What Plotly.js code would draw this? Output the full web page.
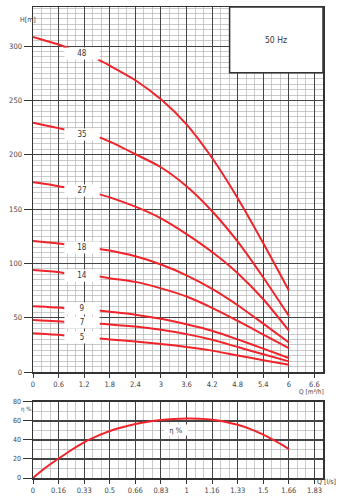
<!DOCTYPE html>
<html><head><meta charset="utf-8">
<script src="https://cdn.plot.ly/plotly-3.0.1.min.js"></script>
<style>html,body{margin:0;padding:0;background:#fff}#c{width:351px;height:504px}</style>
</head><body><div id="c"></div>
<script>
// Head curves: Q [m3/h] and H [m], split by the label gap
const stages = ['48','35','27','18','14','9','7','5'];
const qLeft = [0, 0.3, 0.6, 0.74];
const qLeft48 = [0, 0.3, 0.6, 0.9];
const qRight = [1.56, 1.8, 2.4, 3.0, 3.6, 4.2, 4.8, 5.4, 6.0];
const qRight48 = [1.52, 1.8, 2.4, 3.0, 3.6, 4.2, 4.8, 5.4, 6.0];
const h48L = [308.5, 305, 301.5, 297];
const h48R = [287.7, 282, 268.6, 251, 228, 197, 160, 118.5, 75];
const h35L = [229.4, 227, 224.5, 223.3];
const h35R = [216, 212, 200.5, 188.5, 171, 148, 120, 87, 51.7];
const h27L = [174.6, 173, 171, 170];
const h27R = [163.5, 160.8, 152.2, 141.5, 127, 110.5, 91, 67, 38];
const h18L = [120.7, 119.5, 118.3, 117.6];
const h18R = [113.3, 111.8, 106.5, 99, 89, 76.5, 61.5, 44.5, 27.2];
const h14L = [94, 93, 92, 91];
const h14R = [87.9, 86.4, 83, 77, 69.5, 59, 47, 34.5, 22];
const h9L = [60.6, 60, 59.3, 58.8];
const h9R = [56.6, 55.4, 52.8, 49, 44, 38, 30, 21.5, 12.9];
const h7L = [47.8, 47.3, 46.7, 46.2];
const h7R = [44.4, 43.8, 41.9, 38.9, 34.9, 29.7, 23, 16.3, 9.8];
const h5L = [35.8, 35, 34.2, 33.7];
const h5R = [30.9, 30, 28.1, 25.7, 23.1, 19.7, 15.3, 10.9, 6.7];
const labelQ = 1.15;
const labelH = [293, 219, 167.5, 114.5, 88.5, 58.8, 46, 31.5];

// Efficiency curve: Q [l/s], eta [%]
const qEff = [0, 0.083, 0.167, 0.25, 0.333, 0.417, 0.5, 0.583, 0.667, 0.75, 0.833, 0.917, 1.0, 1.083, 1.167, 1.25, 1.333, 1.417, 1.5, 1.583, 1.667];
const etaEff = [0, 11, 20.5, 29.5, 37.5, 44, 49.5, 53.5, 56.8, 59.3, 61, 62, 62.5, 62.3, 61.4, 59.3, 56, 51.5, 45.6, 38.5, 30.5];

// Tick labels
const qTopText = ['0','0.6','1.2','1.8','2.4','3','3.6','4.2','4.8','5.4','6','6.6'];
const qTopVals = [0,0.6,1.2,1.8,2.4,3,3.6,4.2,4.8,5.4,6,6.6];
const hVals = [0,50,100,150,200,250,300];
const qBotText = ['0','0.16','0.33','0.5','0.66','0.83','1','1.16','1.33','1.5','1.66','1.83'];
const etaVals = [0,20,40,60,80];

const RED = '#f0242a';
const FONT = '"Liberation Sans Narrow","DejaVu Sans Condensed","Arial Narrow",Roboto,sans-serif';

const leftH = [h48L,h35L,h27L,h18L,h14L,h9L,h7L,h5L];
const rightH = [h48R,h35R,h27R,h18R,h14R,h9R,h7R,h5R];
const traces = [];
stages.forEach((s,i)=>{
  const ql = i===0 ? qLeft48 : qLeft;
  const qr = i===0 ? qRight48 : qRight;
  traces.push({x: ql, y: leftH[i], type:'scatter', mode:'lines', line:{color:RED, width:2, shape:'spline', smoothing:0.8}, xaxis:'x', yaxis:'y', hoverinfo:'skip'});
  traces.push({x: qr, y: rightH[i], type:'scatter', mode:'lines', line:{color:RED, width:2, shape:'spline', smoothing:0.8}, xaxis:'x', yaxis:'y', hoverinfo:'skip'});
});
traces.push({x: qEff, y: etaEff, type:'scatter', mode:'lines', line:{color:RED, width:2, shape:'spline'}, xaxis:'x2', yaxis:'y2', hoverinfo:'skip'});

const axBase = {
  showline:true, mirror:true, linecolor:'#333', linewidth:1.5,
  ticks:'outside', ticklen:4, tickcolor:'#333', tickwidth:1,
  showgrid:true, gridcolor:'#444', gridwidth:1.1, zeroline:false,
  tickfont:{family:FONT, size:7.5, color:'#444'}, fixedrange:true
};
const minorX = (d)=>({tickmode:'linear', tick0:0, dtick:d, showgrid:true, gridcolor:'#b4b4b4', gridwidth:0.7, ticks:''});

const annotations = stages.map((s,i)=>({
  x: labelQ, y: labelH[i], xref:'x', yref:'y', text:s, showarrow:false,
  bgcolor:'#ffffff', width:34, height:11, borderpad:0,
  font:{family:FONT, size:8, color:'#333'}
}));
annotations.push({x:5.7, y:305.7, xref:'x', yref:'y', text:'50 Hz', showarrow:false, font:{family:FONT, size:8.5, color:'#333'}});
annotations.push({x:0.929, y:50.8, xref:'x2', yref:'y2', text:'η %', showarrow:false, bgcolor:'#ffffff', width:22, height:10, borderpad:0, font:{family:FONT, size:7.5, color:'#333'}});
annotations.push({x:-0.052, y:0.985, xref:'paper', yref:'paper', text:'H[m]', showarrow:false, font:{family:FONT, size:7, color:'#444'}});
annotations.push({x:1.012, y:0.170, xref:'paper', yref:'paper', text:'Q [m³/h]', showarrow:false, font:{family:FONT, size:6.5, color:'#444'}});
annotations.push({x:-0.002, y:0.136, xref:'paper', yref:'paper', text:'η %', xanchor:'right', showarrow:false, borderpad:0, font:{family:FONT, size:6, color:'#444'}});
annotations.push({x:1.05, y:-0.021, xref:'paper', yref:'paper', text:'Q [l/s]', showarrow:false, font:{family:FONT, size:7, color:'#444'}});

const layout = {
  width:351, height:504,
  margin:{l:33, r:28, t:7, b:26},
  paper_bgcolor:'#ffffff', plot_bgcolor:'#ffffff',
  showlegend:false,
  xaxis: Object.assign({}, axBase, {domain:[0,1], anchor:'y', range:[0,6.8], tickmode:'array', tickvals:qTopVals, ticktext:qTopText, minor:minorX(0.2)}),
  yaxis: Object.assign({}, axBase, {domain:[0.225,1], anchor:'x', range:[0,336], tickmode:'array', tickvals:hVals, ticklen:8, minor:minorX(5)}),
  xaxis2: Object.assign({}, axBase, {domain:[0,1], anchor:'y2', range:[0,6.8/3.6], tickmode:'array', tickvals:qBotText.map((t,i)=>i/6), ticktext:qBotText, minor:minorX(0.2/3.6)}),
  yaxis2: Object.assign({}, axBase, {domain:[0,0.1614], anchor:'x2', range:[0,80], tickmode:'array', tickvals:etaVals, ticklen:9, tickfont:{family:FONT, size:7, color:'#444'}, minor:minorX(10)}),
  shapes:[{type:'rect', xref:'x', yref:'y', x0:4.61, x1:6.8, y0:275.4, y1:336, fillcolor:'#ffffff', line:{color:'#333', width:1.5}, layer:'above'}],
  annotations: annotations
};
Plotly.newPlot('c', traces, layout, {staticPlot:true, displayModeBar:false});
</script></body></html>
